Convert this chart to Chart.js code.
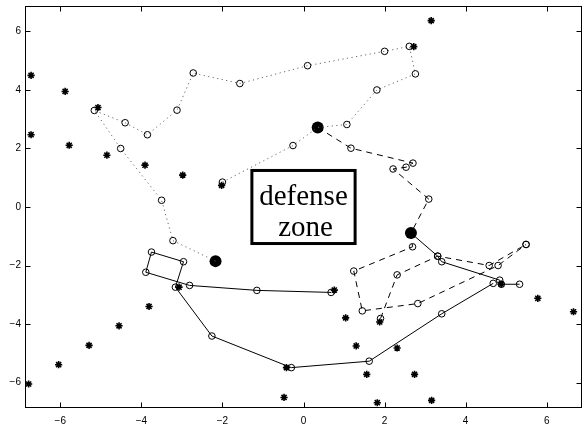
<!DOCTYPE html>
<html>
<head>
<meta charset="utf-8">
<script src="https://cdn.jsdelivr.net/npm/chart.js@4/dist/chart.umd.min.js"></script>
<style>
  html, body { margin: 0; padding: 0; background: #fff; }
  #wrap { width: 588px; height: 424px; }
</style>
</head>
<body>
<div id="wrap"><canvas id="chart" width="588" height="424"></canvas></div>
<script>
const X_RANGE = [-6.87, 6.87];
const Y_RANGE = [-6.87, 6.87];
const xTicks = [-6, -4, -2, 0, 2, 4, 6];
const yTicks = [-6, -4, -2, 0, 2, 4, 6];

// dotted trajectory (grey)
const dottedPath = [
  [-2.0, 0.85], [-0.26, 2.10], [0.35, 2.72], [1.07, 2.82], [1.81, 4.0], [2.76, 4.55],
  [2.61, 5.49], [2.0, 5.32], [0.10, 4.83], [-1.57, 4.22], [-2.72, 4.58], [-3.12, 3.31],
  [-3.85, 2.47], [-4.40, 2.88], [-5.16, 3.30], [-4.51, 2.0], [-3.50, 0.23], [-3.22, -1.15],
  [-2.17, -1.85],
];

// dashed trajectories
const dashedPathA = [
  [0.35, 2.72], [1.17, 2.01], [2.70, 1.50], [2.53, 1.36], [2.21, 1.30], [3.09, 0.27],
  [2.65, -0.89], [2.69, -1.36], [1.24, -2.19], [1.45, -3.55], [2.82, -3.30], [4.80, -2.0],
  [5.49, -1.28],
];
const dashedPathB = [
  [1.90, -3.81], [2.31, -2.32], [3.31, -1.68], [4.58, -2.0], [5.49, -1.28],
];

// solid trajectories
const solidPathA = [
  [0.68, -2.92], [-1.15, -2.85], [-2.81, -2.68], [-3.89, -2.23], [-3.75, -1.54], [-2.96, -1.87],
  [-3.16, -2.74], [-2.26, -4.41], [-0.30, -5.49], [1.62, -5.27], [3.41, -3.65], [4.68, -2.61],
];
const solidPathB = [
  [2.65, -0.89], [3.31, -1.68], [3.41, -1.87], [4.84, -2.50], [4.88, -2.64], [5.33, -2.64],
];

// star markers
const starPoints = [
  [-6.72, 4.50], [-6.72, 2.47], [-5.88, 3.95], [-5.78, 2.11], [-5.07, 3.40], [-4.85, 1.77],
  [-3.91, 1.43], [-2.98, 1.09], [-2.02, 0.74], [3.15, 6.37], [2.72, 5.48], [-3.81, -3.40],
  [-4.55, -4.06], [-5.29, -4.73], [-6.04, -5.39], [-6.78, -6.05], [-3.07, -2.74], [-0.42, -5.49],
  [-0.48, -6.51], [0.76, -2.84], [1.04, -3.79], [1.88, -3.93], [1.30, -4.75], [2.31, -4.82],
  [1.56, -5.72], [2.74, -5.72], [1.82, -6.69], [3.16, -6.61], [4.88, -2.64], [5.78, -3.12],
  [6.66, -3.58],
];

// filled dots
const filledDots = [[0.35, 2.72], [2.65, -0.89], [-2.17, -1.85]];

// text box
const zoneLines = ['defense', 'zone'];
const zoneBox = { xMin: -1.31, xMax: 1.31, yMin: -1.30, yMax: 1.30 };

const pts = arr => arr.map(([x, y]) => ({ x, y }));

function pathSet(path, color, dash) {
  return {
    data: pts(path),
    showLine: true,
    borderColor: color,
    borderWidth: 1,
    borderDash: dash,
    pointRadius: 3.3,
    pointBorderColor: '#000',
    pointBackgroundColor: 'rgba(0,0,0,0)',
    pointBorderWidth: 1,
    pointStyle: 'circle',
  };
}

function minusLabel(v) {
  return v < 0 ? '\u2212' + Math.abs(v) : String(v);
}

function noPad(s) {
  s.paddingTop = 0;
  s.paddingBottom = 0;
  s.paddingLeft = 0;
  s.paddingRight = 0;
}

const framePlugin = {
  id: 'frame',
  afterDraw(chart) {
    const { ctx, chartArea: a, scales: { x, y } } = chart;
    ctx.save();
    ctx.strokeStyle = '#000';
    ctx.lineWidth = 1;
    const L = Math.round(a.left) + 0.5, R = Math.round(a.right) - 0.5;
    const T = Math.round(a.top) + 0.5, B = Math.round(a.bottom) - 0.5;
    ctx.strokeRect(L, T, R - L, B - T);
    const tl = 5;
    ctx.beginPath();
    xTicks.forEach(v => {
      const px = Math.round(x.getPixelForValue(v)) + 0.5;
      ctx.moveTo(px, B); ctx.lineTo(px, B - tl);
      ctx.moveTo(px, T); ctx.lineTo(px, T + tl);
    });
    yTicks.forEach(v => {
      const py = Math.round(y.getPixelForValue(v)) + 0.5;
      ctx.moveTo(L, py); ctx.lineTo(L + tl, py);
      ctx.moveTo(R, py); ctx.lineTo(R - tl, py);
    });
    ctx.stroke();

    // defense zone box
    const bx0 = x.getPixelForValue(zoneBox.xMin), bx1 = x.getPixelForValue(zoneBox.xMax);
    const by0 = y.getPixelForValue(zoneBox.yMax), by1 = y.getPixelForValue(zoneBox.yMin);
    ctx.fillStyle = '#fff';
    ctx.fillRect(bx0, by0, bx1 - bx0, by1 - by0);
    ctx.lineWidth = 3;
    ctx.strokeRect(bx0 + 1.5, by0 + 1.5, bx1 - bx0 - 3, by1 - by0 - 3);
    ctx.fillStyle = '#000';
    ctx.font = '29px "Liberation Serif", "Times New Roman", serif';
    ctx.textAlign = 'center';
    ctx.textBaseline = 'alphabetic';
    const cx = (bx0 + bx1) / 2, cy = (by0 + by1) / 2;
    ctx.fillText(zoneLines[0], cx, cy - 2);
    ctx.fillText(zoneLines[1], cx + 2, cy + 28.5);
    ctx.restore();
  },
};

new Chart(document.getElementById('chart'), {
  type: 'scatter',
  data: {
    datasets: [
      pathSet(dottedPath, '#666', [1.2, 3.4]),
      pathSet(dashedPathA, '#000', [6, 5]),
      pathSet(dashedPathB, '#000', [6, 5]),
      pathSet(solidPathA, '#000', []),
      pathSet(solidPathB, '#000', []),
      {
        data: pts(starPoints),
        pointStyle: 'star',
        pointRadius: 3.6,
        pointBorderWidth: 1.6,
        pointBorderColor: '#000',
        pointBackgroundColor: '#000',
        showLine: false,
      },
      {
        data: pts(filledDots),
        pointStyle: 'circle',
        pointRadius: 6,
        pointBorderWidth: 0,
        pointBackgroundColor: '#000',
        pointBorderColor: '#000',
        showLine: false,
      },
    ],
  },
  options: {
    responsive: false,
    animation: false,
    layout: { padding: { top: 6, right: 3, left: 0, bottom: 0 } },
    plugins: {
      legend: { display: false },
      tooltip: { enabled: false },
    },
    scales: {
      x: {
        type: 'linear',
        min: X_RANGE[0],
        max: X_RANGE[1],
        grid: { display: false, drawTicks: false },
        border: { display: false },
        afterBuildTicks: s => { s.ticks = xTicks.map(v => ({ value: v })); },
        afterFit: s => { s.height = 16; noPad(s); },
        ticks: {
          color: '#000',
          padding: 7,
          maxRotation: 0,
          font: { family: '"Liberation Sans", Arial, sans-serif', size: 10 },
          callback: v => minusLabel(v),
        },
      },
      y: {
        type: 'linear',
        min: Y_RANGE[0],
        max: Y_RANGE[1],
        grid: { display: false, drawTicks: false },
        border: { display: false },
        afterBuildTicks: s => { s.ticks = yTicks.map(v => ({ value: v })); },
        afterFit: s => { s.width = 25; noPad(s); },
        ticks: {
          color: '#000',
          padding: 4,
          font: { family: '"Liberation Sans", Arial, sans-serif', size: 10 },
          callback: v => minusLabel(v),
        },
      },
    },
  },
  plugins: [framePlugin],
});
</script>
</body>
</html>
